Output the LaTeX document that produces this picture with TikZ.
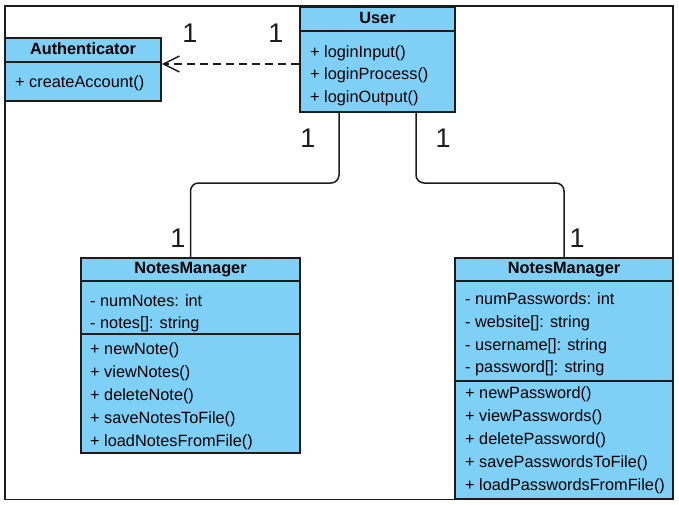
\documentclass[tikz,border=0pt]{standalone}
\usepackage{fontspec}
\setmainfont{Liberation Sans}
\usetikzlibrary{arrows.meta}
\definecolor{cls}{RGB}{126,208,246}
\definecolor{bord}{RGB}{28,28,28}
\newcommand{\memfont}{\fontsize{16.3}{19}\selectfont}
\newcommand{\hdfont}{\fontsize{16.3}{19}\selectfont\bfseries}
\newcommand{\multfont}{\fontsize{27}{30}\selectfont}
\tikzset{
  classbox/.style={draw=bord, fill=cls, line width=1.6pt, rectangle, inner sep=0pt},
  sepline/.style={draw=bord, line width=1.6pt},
  member/.style={anchor=west, inner sep=0pt, font=\memfont, text height=11.7pt, text depth=3.4pt, yshift=-1.5pt},
  header/.style={anchor=center, inner sep=0pt, font=\hdfont, text height=11.7pt, text depth=3.4pt, yshift=-1pt},
  mult/.style={anchor=center, inner sep=0pt, font=\multfont, text=bord},
  assoc/.style={draw=bord, line width=1.5pt, rounded corners=8pt},
  depend/.style={draw=bord, line width=1.5pt, dash pattern=on 8pt off 5pt, -{Straight Barb[length=16pt, width=16pt, line width=1.5pt]}},
  outerframe/.style={draw=bord, line width=1.5pt}
}
\begin{document}
\begin{tikzpicture}[x=1pt, y=-1pt]
\useasboundingbox (0,0) rectangle (679,505);
\draw[outerframe] (5,6) rectangle (673,499.5);

% Authenticator
\node[classbox, minimum width=156pt, minimum height=63pt] (auth) at (83,69.5) {};
\draw[sepline] ([yshift=-25pt]auth.north west) -- ([yshift=-25pt]auth.north east);
\node[header] (authh) at (83,49) {Authenticator};
\node[member] (a1) at (15,82) {+ createAccount()};

% User
\node[classbox, minimum width=155pt, minimum height=105pt] (user) at (377.5,59.5) {};
\draw[sepline] ([yshift=-25pt]user.north west) -- ([yshift=-25pt]user.north east);
\node[header] (userh) at (377.5,18) {User};
\node[member] (u1) at (310,51.5) {+ loginInput()};
\node[member] (u2) at (310,74) {+ loginProcess()};
\node[member] (u3) at (310,97) {+ loginOutput()};

% NotesManager (notes)
\node[classbox, minimum width=219pt, minimum height=195pt] (nm1) at (190.5,355.5) {};
\draw[sepline] ([yshift=-24pt]nm1.north west) -- ([yshift=-24pt]nm1.north east);
\draw[sepline] ([yshift=-77pt]nm1.north west) -- ([yshift=-77pt]nm1.north east);
\node[header] (nm1h) at (190.5,268) {NotesManager};
\node[member] (n1) at (90,301) {- numNotes: int};
\node[member] (n2) at (90,323) {- notes[]: string};
\node[member] (n3) at (90,349) {+ newNote()};
\node[member] (n4) at (90,372) {+ viewNotes()};
\node[member] (n5) at (90,395) {+ deleteNote()};
\node[member] (n6) at (90,418) {+ saveNotesToFile()};
\node[member] (n7) at (90,441) {+ loadNotesFromFile()};

% NotesManager (passwords)
\node[classbox, minimum width=218pt, minimum height=241pt] (nm2) at (564,378.5) {};
\draw[sepline] ([yshift=-24pt]nm2.north west) -- ([yshift=-24pt]nm2.north east);
\draw[sepline] ([yshift=-124pt]nm2.north west) -- ([yshift=-124pt]nm2.north east);
\node[header] (nm2h) at (564,268) {NotesManager};
\node[member] (p1) at (465,299) {- numPasswords: int};
\node[member] (p2) at (465,322) {- website[]: string};
\node[member] (p3) at (465,345) {- username[]: string};
\node[member] (p4) at (465,367) {- password[]: string};
\node[member] (p5) at (465,393) {+ newPassword()};
\node[member] (p6) at (465,416) {+ viewPasswords()};
\node[member] (p7) at (465,438.5) {+ deletePassword()};
\node[member] (p8) at (465,462) {+ savePasswordsToFile()};
\node[member] (p9) at (465,485) {+ loadPasswordsFromFile()};

% connectors
\coordinate (mid) at (0,183);
\draw[depend] ([yshift=-4.5pt]user.west) -- ([yshift=-4.5pt]user.west -| auth.east);
\draw[assoc] ([xshift=-38.5pt]user.south) -- ([xshift=-38.5pt]user.south |- mid) -| (nm1.north);
\draw[assoc] ([xshift=38.5pt]user.south) -- ([xshift=38.5pt]user.south |- mid) -| (nm2.north);

% multiplicities
\node[mult] (m1) at (190,33) {1};
\node[mult] (m2) at (276,33) {1};
\node[mult] (m3) at (308,138) {1};
\node[mult] (m4) at (443,138) {1};
\node[mult] (m5) at (178,238) {1};
\node[mult] (m6) at (577,238) {1};
\end{tikzpicture}
\end{document}
